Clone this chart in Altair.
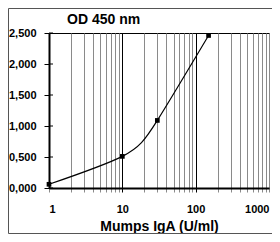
import altair as alt
import pandas as pd

conc = [1, 10, 30, 150]
od = [0.06, 0.51, 1.09, 2.46]
x_ticks = [1, 2, 3, 4, 5, 6, 7, 8, 9, 10, 20, 30, 40, 50, 60, 70, 80, 90,
           100, 200, 300, 400, 500, 600, 700, 800, 900, 1000]
y_ticks = [0, 0.5, 1.0, 1.5, 2.0, 2.5]
title_text = "OD 450 nm"
x_title = "Mumps IgA (U/ml)"

df = pd.DataFrame({"conc": conc, "od": od})
ytick_df = pd.DataFrame({"v": y_ticks})

FONT = "Liberation Sans"

xscale = alt.Scale(type="log", domain=[1, 1000], nice=False)
yscale = alt.Scale(domain=[0, 2.5], nice=False)

major = "datum.value == 10 || datum.value == 100"

xaxis = alt.Axis(
    values=x_ticks,
    grid=True,
    gridColor={"condition": {"test": major, "value": "#000000"}, "value": "#8a8a8a"},
    gridWidth=1,
    tickColor={"condition": {"test": major, "value": "#000000"}, "value": "#8a8a8a"},
    tickSize=4,
    domainColor="black",
    domainWidth=2,
    labelExpr="indexof([1,10,100,1000], datum.value) >= 0 ? format(datum.value, 'd') : ''",
    labelOverlap=False,
    labelFont=FONT,
    labelFontSize=11,
    labelFontWeight="bold",
    labelColor="black",
    labelPadding=11,
    labelBound=False,
    title=x_title,
    titleFont=FONT,
    titleFontSize=14,
    titleFontWeight="bold",
    titleColor="black",
    titlePadding=5,
)

yaxis = alt.Axis(
    values=y_ticks,
    grid=False,
    tickSize=5,
    tickColor="black",
    tickWidth=1,
    domainColor="black",
    domainWidth=2,
    labelExpr="replace(format(datum.value, '.3f'), '.', ',')",
    labelOverlap=False,
    labelFont=FONT,
    labelFontSize=11,
    labelFontWeight="bold",
    labelColor="black",
    labelPadding=8,
    title=None,
)

base = alt.Chart(df)

line = base.mark_line(color="black", strokeWidth=1.2, interpolate="natural").encode(
    x=alt.X("conc:Q", scale=xscale, axis=xaxis),
    y=alt.Y("od:Q", scale=yscale, axis=yaxis),
)

pts = base.mark_point(shape="square", filled=True, color="black", size=22, opacity=1).encode(
    x=alt.X("conc:Q", scale=xscale, axis=xaxis),
    y=alt.Y("od:Q", scale=yscale, axis=yaxis),
)

inner_ticks = alt.Chart(ytick_df).mark_rule(color="black", strokeWidth=1).encode(
    x=alt.value(0),
    x2=alt.value(4),
    y=alt.Y("v:Q", scale=yscale, axis=yaxis),
)

title_mark = alt.Chart(alt.Data(values=[{"t": title_text}])).mark_text(
    font=FONT, fontSize=14, fontWeight="bold", color="black", align="left", baseline="alphabetic"
).encode(
    x=alt.value(18),
    y=alt.value(-9),
    text="t:N",
)

frame = alt.Chart(alt.Data(values=[{}])).mark_rect(
    fill=None, fillOpacity=0, stroke="#555555", strokeWidth=1
).encode(
    x=alt.value(-40.5),
    x2=alt.value(240),
    y=alt.value(-24.5),
    y2=alt.value(200.5),
)

chart = alt.layer(frame, line, inner_ticks, pts, title_mark).properties(
    width=220,
    height=155,
    padding={"left": 41, "top": 25, "right": 3, "bottom": 46},
    autosize=alt.AutoSizeParams(type="none"),
).configure_view(
    stroke="black", strokeWidth=1
)

chart.save("out.html", embed_options={"renderer": "svg", "actions": False})
